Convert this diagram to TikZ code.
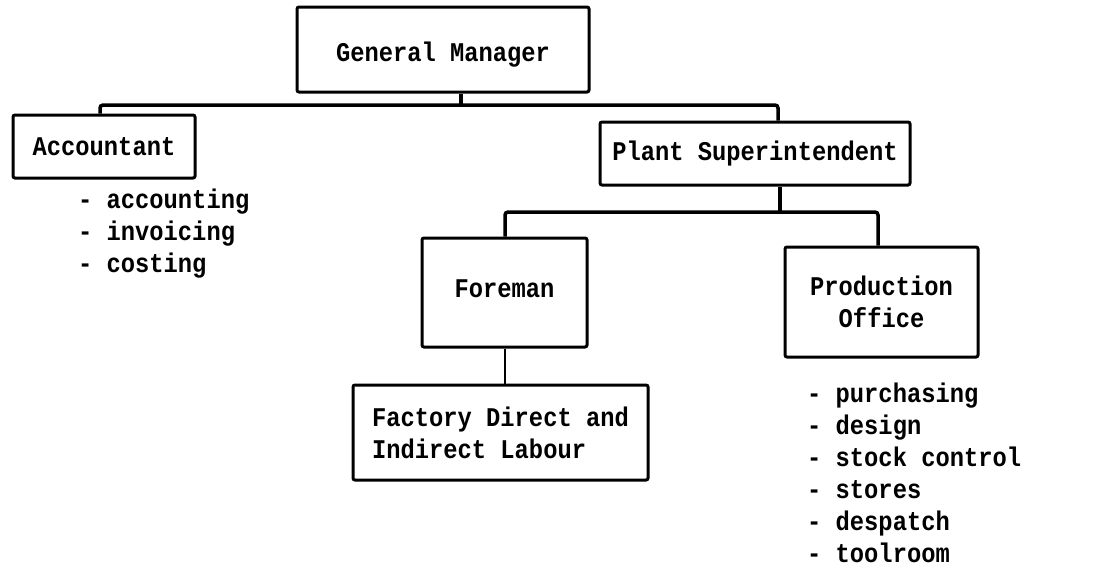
\documentclass[tikz,border=0pt]{standalone}
\usepackage{fontspec}
\setmonofont[FakeStretch=0.88]{Liberation Mono}
\usepackage{tikz}

\tikzset{
    orgbox/.style={draw,line width=3pt,rounded corners=2pt,inner sep=0pt,
        font=\ttfamily\bfseries\fontsize{27}{32}\selectfont},
    duties/.style={anchor=north west,inner sep=0pt,align=left,
        font=\ttfamily\bfseries\fontsize{27}{32}\selectfont},
    link/.style={line width=3.5pt,rounded corners=3pt},
}

\begin{document}
\begin{tikzpicture}[x=1pt,y=-1pt]
    \useasboundingbox (0,0) rectangle (1099,571);
    % boxes
    \node[orgbox,minimum width=292pt,minimum height=85pt,text height=30pt] (gm) at (443,49.5) {General Manager};
    \node[orgbox,minimum width=182pt,minimum height=63pt] (acct) at (104,146.5) {Accountant};
    \node[orgbox,minimum width=310pt,minimum height=63pt] (ps) at (755,153.5) {Plant Superintendent};
    \node[orgbox,minimum width=165pt,minimum height=109pt,text depth=8pt] (fore) at (504.5,292.5) {Foreman};
    \node[orgbox,minimum width=295pt,minimum height=95pt,align=left] (fact) at (500.5,432.5) {Factory Direct and\\Indirect Labour};
    \node[orgbox,minimum width=193pt,minimum height=110pt,align=center] (po) at (881.5,302) {Production\\Office};
    % duty lists
    \node[duties] (acctlist) at (78,189) {- accounting\\- invoicing\\- costing};
    \node[duties] (polist) at (807,383) {- purchasing\\- design\\- stock control\\- stores\\- despatch\\- toolroom};
    % connectors
    \coordinate (bus1) at (461,105);
    \coordinate (acctdrop) at (100,0);
    \coordinate (psdrop) at (778,0);
    \draw[link] (gm.south -| bus1) -- (bus1);
    \draw[link] (acct.north -| acctdrop) |- (bus1) -| (ps.north -| psdrop);
    \coordinate (bus2) at (780,212);
    \coordinate (foredrop) at (505,0);
    \coordinate (podrop) at (878,0);
    \draw[link] (ps.south -| bus2) -- (bus2);
    \draw[link] (fore.north -| foredrop) |- (bus2) -| (po.north -| podrop);
    \draw[line width=2pt] (fore.south) -- (fact.north -| fore.south);
\end{tikzpicture}
\end{document}
